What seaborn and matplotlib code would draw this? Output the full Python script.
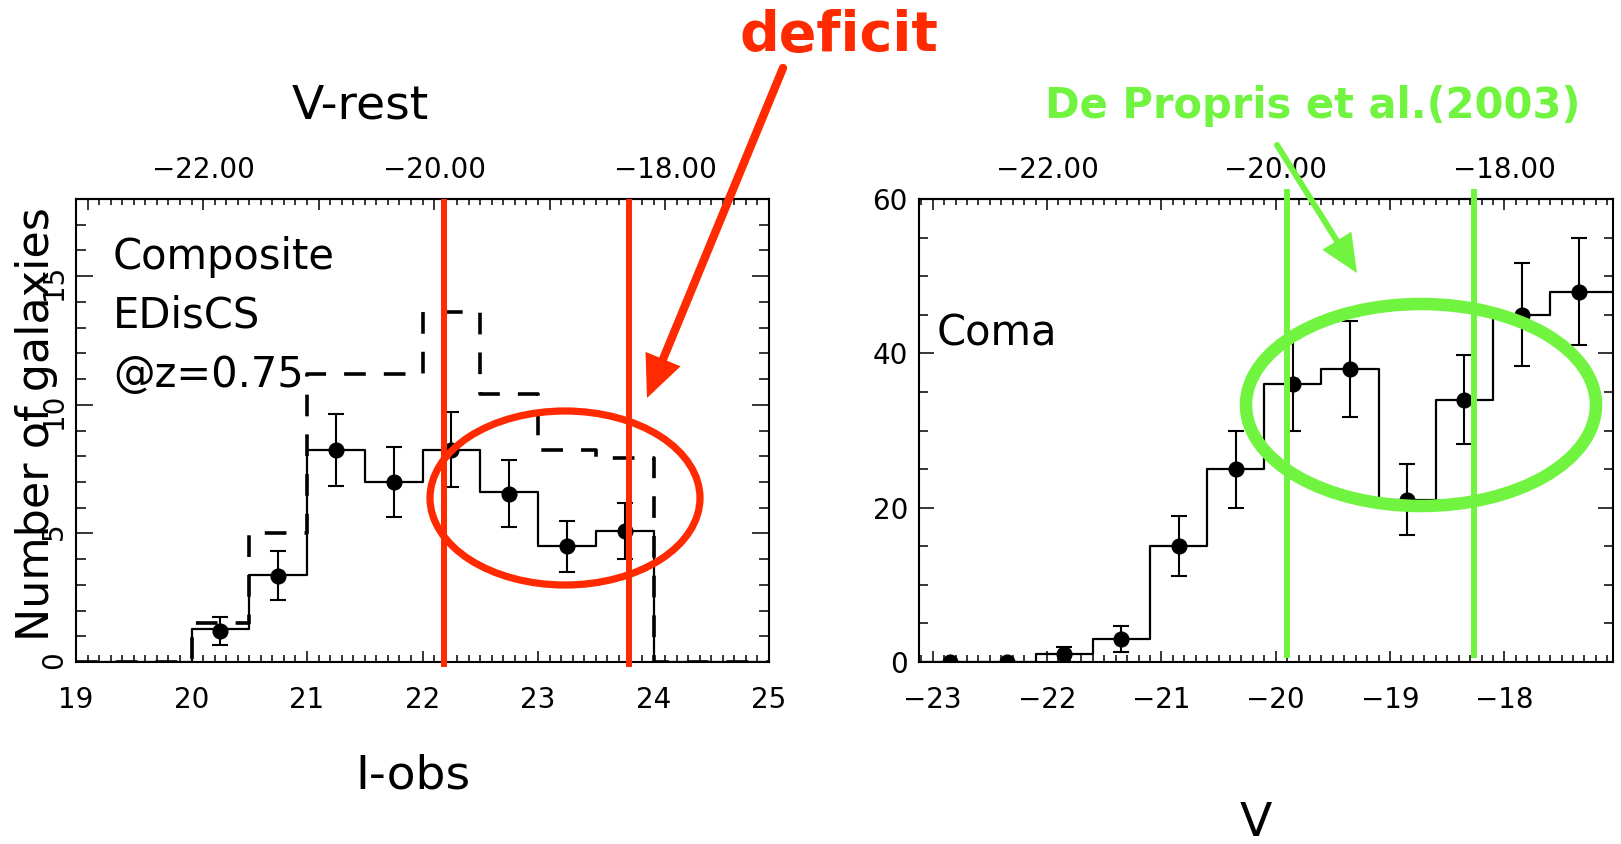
import matplotlib
matplotlib.use("Agg")
import matplotlib.pyplot as plt
from matplotlib.patches import Ellipse, FancyArrowPatch, ArrowStyle
from matplotlib.ticker import MultipleLocator, FuncFormatter
import seaborn as sns

# ---------------- data ----------------
# Composite EDisCS cluster luminosity function (observed I band)
ediscs_edges = [19.0, 19.5, 20.0, 20.5, 21.0, 21.5, 22.0, 22.5, 23.0, 23.5, 24.0, 24.5, 25.0]
ediscs_counts = [0, 0, 1.3, 3.4, 8.25, 7.0, 8.25, 6.6, 4.5, 5.1, 0, 0]
comparison_counts = [0, 0, 1.5, 5.0, 11.2, 11.2, 13.6, 10.4, 8.25, 7.95, 0, 0]
ediscs_pts_x = [20.25, 20.75, 21.25, 21.75, 22.25, 22.75, 23.25, 23.75]
ediscs_pts_y = [1.2, 3.35, 8.25, 7.0, 8.25, 6.55, 4.5, 5.1]
ediscs_err = [0.55, 0.95, 1.4, 1.35, 1.45, 1.3, 1.0, 1.1]
deficit_I = [22.19, 23.79]
vrest_offset = 42.1  # V_rest = I_obs - offset at z = 0.75

# Coma luminosity function (V band)
coma_edges = [-23.1, -22.6, -22.1, -21.6, -21.1, -20.6, -20.1,
              -19.6, -19.1, -18.6, -18.1, -17.6, -17.0]
coma_counts = [0, 0, 1, 3, 15, 25, 36, 38, 21, 34, 45, 48]
coma_pts_x = [-22.85, -22.35, -21.85, -21.35, -20.85, -20.35,
              -19.85, -19.35, -18.85, -18.35, -17.85, -17.35]
coma_pts_y = [0, 0, 1, 3, 15, 25, 36, 38, 21, 34, 45, 48]
coma_err = [0, 0, 1.0, 1.7, 3.9, 5.0, 6.0, 6.2, 4.6, 5.8, 6.7, 6.9]
dip_V = [-19.9, -18.27]

RED = "#FF2A00"
GREEN = "#70F440"

# ---------------- style ----------------
sns.set_theme(style="ticks")
plt.rcParams["font.family"] = ["DejaVu Sans"]
plt.rcParams.update({
    "axes.linewidth": 1.5,
    "axes.edgecolor": "black",
    "text.color": "black",
    "axes.labelcolor": "black",
    "xtick.color": "black",
    "ytick.color": "black",
})

W, H = 1621, 844
fig = plt.figure(figsize=(W / 100, H / 100), dpi=100)
fig.patch.set_facecolor("white")

ax1 = fig.add_axes([76 / W, 1 - 662 / H, 693 / W, 463 / H])
ax2 = fig.add_axes([919 / W, 1 - 662 / H, 694 / W, 463 / H])


def centers(edges):
    return [(a + b) / 2 for a, b in zip(edges[:-1], edges[1:])]


def fmt_top(v, _):
    r = round(v)
    if abs(v - r) > 1e-6 or r % 2:
        return ""
    return f"{v:.2f}".replace("-", "\u2212")


def style_axes(ax, ymajor, yminor, ylen, ypad, yrot):
    ax.set_ylabel("")
    ax.set_xlabel("")
    ax.set_facecolor("white")
    for s in ax.spines.values():
        s.set_visible(True)
        s.set_linewidth(1.5)
        s.set_color("black")
    ax.xaxis.set_major_locator(MultipleLocator(1))
    ax.xaxis.set_minor_locator(MultipleLocator(0.1))
    ax.yaxis.set_major_locator(MultipleLocator(ymajor))
    ax.yaxis.set_minor_locator(MultipleLocator(yminor))
    ax.tick_params(axis="x", which="major", direction="in", length=8, width=1.1,
                   pad=17, labelsize=20, top=False, bottom=True)
    ax.tick_params(axis="x", which="minor", direction="in", length=5, width=1.1,
                   top=False, bottom=True)
    ax.tick_params(axis="y", which="major", direction="in", length=ylen, width=1.1,
                   pad=ypad, labelsize=20, left=True, right=True, labelrotation=yrot)
    ax.tick_params(axis="y", which="minor", direction="in", length=ylen * 0.58,
                   width=1.1, left=True, right=True)


def top_axis(ax, fwd, inv):
    sec = ax.secondary_xaxis("top", functions=(fwd, inv))
    sec.xaxis.set_major_locator(MultipleLocator(1))
    sec.xaxis.set_minor_locator(MultipleLocator(0.1))
    sec.xaxis.set_major_formatter(FuncFormatter(fmt_top))
    sec.tick_params(which="major", direction="in", length=8, width=1.1, pad=11,
                    labelsize=20, colors="black")
    sec.tick_params(which="minor", direction="in", length=4.5, width=1.1)
    sec.spines["top"].set_linewidth(1.5)
    return sec


# ---------------- left panel: EDisCS ----------------
sns.histplot(x=centers(ediscs_edges), weights=comparison_counts, bins=ediscs_edges,
             element="step", fill=False, color="black", linewidth=2.6,
             linestyle=(0, (6, 5)), ax=ax1)
sns.histplot(x=centers(ediscs_edges), weights=ediscs_counts, bins=ediscs_edges,
             element="step", fill=False, color="black", linewidth=1.6, ax=ax1)
ax1.errorbar(ediscs_pts_x, ediscs_pts_y, yerr=ediscs_err, fmt="none",
             ecolor="black", elinewidth=1.5, capsize=5.5, capthick=1.5, zorder=3)
sns.scatterplot(x=ediscs_pts_x, y=ediscs_pts_y, color="black", s=135,
                edgecolor="black", linewidth=0, ax=ax1, zorder=4)
ax1.vlines(deficit_I, -0.2, 18, colors=RED, linewidth=4.3, clip_on=False, zorder=5)
ax1.set_xlim(19, 25)
ax1.set_ylim(0, 18)
style_axes(ax1, 5, 1, 12, 6, 90)
top_axis(ax1, lambda x: x - vrest_offset, lambda v: v + vrest_offset)

# ---------------- right panel: Coma ----------------
sns.histplot(x=centers(coma_edges), weights=coma_counts, bins=coma_edges,
             element="step", fill=False, color="black", linewidth=1.6, ax=ax2)
ax2.errorbar(coma_pts_x, coma_pts_y, yerr=coma_err, fmt="none",
             ecolor="black", elinewidth=1.5, capsize=5.5, capthick=1.5, zorder=3)
sns.scatterplot(x=coma_pts_x, y=coma_pts_y, color="black", s=135,
                edgecolor="black", linewidth=0, ax=ax2, zorder=4)
ax2.vlines(dip_V, 0.5, 61.3, colors=GREEN, linewidth=4.3, clip_on=False, zorder=5)
ax2.set_xlim(-23.12, -17.05)
ax2.set_ylim(0, 60)
style_axes(ax2, 20, 5, 11, 8, 0)
top_axis(ax2, lambda x: x, lambda x: x)

# ---------------- labels ----------------
fig.text(360 / W, 1 - 106 / H, "V-rest", fontsize=34, ha="center", va="center")
fig.text(413 / W, 1 - 776 / H, "I-obs", fontsize=34, ha="center", va="center")
fig.text(1256 / W, 1 - 824 / H, "V", fontsize=34, ha="center", va="center")
fig.text(37 / W, 1 - 424 / H, "Number of galaxies", fontsize=32, rotation=90,
         ha="center", va="center")
fig.text(113 / W, 1 - 316 / H, "Composite\nEDisCS\n@z=0.75", fontsize=30,
         ha="left", va="center", linespacing=1.5)
fig.text(937 / W, 1 - 333 / H, "Coma", fontsize=30, ha="left", va="center")

fig.text(839 / W, 1 - 36 / H, "deficit", fontsize=40, fontweight="bold",
         color=RED, ha="center", va="center")
fig.text(1313 / W, 1 - 106 / H, "De Propris et al.(2003)", fontsize=30,
         fontweight="bold", color=GREEN, ha="center", va="center")

# ---------------- highlight ellipses and arrows ----------------
fig.add_artist(Ellipse((565 / W, 1 - 498 / H), 270 / W, 174 / H,
                       transform=fig.transFigure, fill=False, edgecolor=RED,
                       linewidth=5.2, zorder=10))
fig.add_artist(Ellipse((1421 / W, 1 - 405 / H), 350 / W, 202 / H,
                       transform=fig.transFigure, fill=False, edgecolor=GREEN,
                       linewidth=9, zorder=10))

fig.add_artist(FancyArrowPatch((783 / W, 1 - 68 / H), (647 / W, 1 - 398 / H),
                               transform=fig.transFigure,
                               arrowstyle=ArrowStyle("-|>", head_length=20, head_width=9),
                               color=RED, linewidth=6, shrinkA=0, shrinkB=0,
                               joinstyle="miter", zorder=11))
fig.add_artist(FancyArrowPatch((1277 / W, 1 - 145 / H), (1357 / W, 1 - 273 / H),
                               transform=fig.transFigure,
                               arrowstyle=ArrowStyle("-|>", head_length=20, head_width=9),
                               color=GREEN, linewidth=4.3, shrinkA=0, shrinkB=0,
                               joinstyle="miter", zorder=11))

fig.savefig("out.png", dpi=100, facecolor="white")
